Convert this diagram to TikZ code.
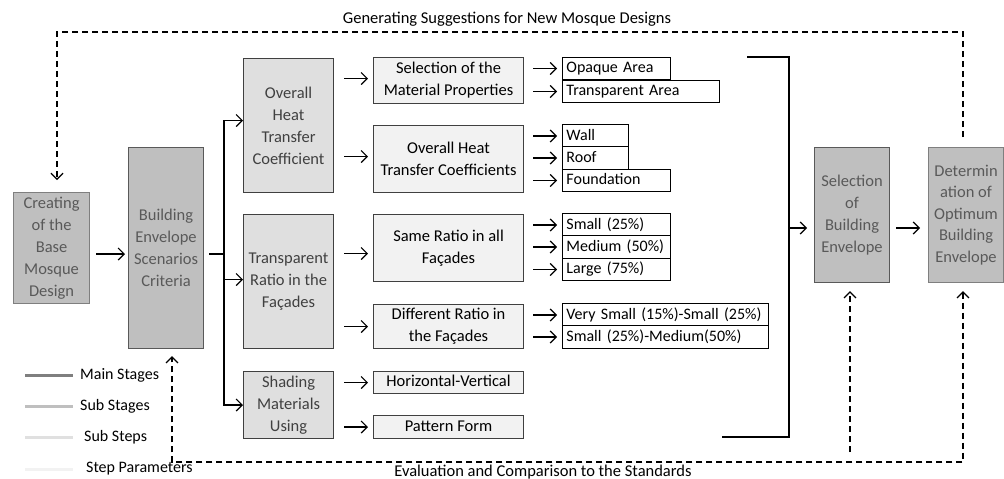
\documentclass[tikz,border=0pt]{standalone}
\usepackage{fontspec}
\setmainfont{Carlito}
\usetikzlibrary{arrows.meta}
\definecolor{mainfill}{HTML}{BFBFBF}
\definecolor{mainedge}{HTML}{595959}
\definecolor{maintext}{HTML}{595959}
\definecolor{subfill}{HTML}{DFDFDF}
\definecolor{subtext}{HTML}{404040}
\definecolor{stepfill}{HTML}{F2F2F2}
\definecolor{lgmain}{HTML}{7F7F7F}
\definecolor{lgsub}{HTML}{BFBFBF}
\definecolor{lgstep}{HTML}{E0E0E0}
\definecolor{lgpar}{HTML}{F2F2F2}
\begin{document}
\begin{tikzpicture}[x=1pt,y=-1pt,
  font=\fontsize{16.5}{22}\selectfont,
  box/.style={rectangle, anchor=north west, align=center, inner sep=0pt, line width=1.1pt},
  mainbox/.style={box, draw=mainedge, fill=mainfill, text=maintext},
  mainboxl/.style={box, draw=lgmain, fill=mainfill, text=maintext},
  subbox/.style={box, draw=subtext, fill=subfill, text=subtext},
  stepbox/.style={box, draw=subtext, fill=stepfill, text=black},
  param/.style={rectangle, anchor=west, draw=black, fill=white, line width=0.9pt, text width=#1, align=left, inner xsep=4pt, inner ysep=0pt, minimum height=22.5pt, text height=11.5pt, text depth=3.5pt, font=\fontsize{16}{20}\selectfont},
  arr/.style={line width=1.2pt, -{Straight Barb[length=6pt,width=12pt]}},
  dsh/.style={line width=1.2pt, dash pattern=on 6pt off 4pt},
  lg/.style={line width=3pt},
  lgtext/.style={anchor=west, inner sep=0pt, font=\fontsize{16}{20}\selectfont}
]
\useasboundingbox (0,0) rectangle (1004,479);

% main stages
\node[mainboxl, minimum width=76pt, minimum height=111pt] (create) at (13,192) {Creating\\of the\\Base\\Mosque\\Design};
\node[mainbox, minimum width=75pt, minimum height=201pt] (build) at (128,147) {Building\\Envelope\\Scenarios\\Criteria};
\node[mainbox, minimum width=75pt, minimum height=135pt] (selB) at (814,147) {Selection\\of\\Building\\Envelope};
\node[mainboxl, minimum width=75pt, minimum height=135pt, font=\fontsize{16.5}{21.5}\selectfont] (det) at (928,147) {Determin\\ation of\\Optimum\\Building\\Envelope};

% sub stages
\node[subbox, minimum width=90pt, minimum height=134pt] (ohtc) at (243,58) {Overall\\Heat\\Transfer\\Coefficient};
\node[subbox, minimum width=90pt, minimum height=134pt] (trans) at (243,214) {Transparent\\Ratio in the\\Façades};
\node[subbox, minimum width=90pt, minimum height=67pt] (shad) at (243,371) {Shading\\Materials\\Using};

% sub steps
\node[stepbox, minimum width=150pt, minimum height=46pt] (selmat) at (373,57) {Selection of the\\Material Properties};
\node[stepbox, minimum width=150pt, minimum height=67pt] (ohtcs) at (373,125) {Overall Heat\\Transfer Coefficients};
\node[stepbox, minimum width=150pt, minimum height=67pt] (same) at (373,214) {Same Ratio in all\\Façades};
\node[stepbox, minimum width=150pt, minimum height=44pt] (diff) at (373,304) {Different Ratio in\\the Façades};
\node[stepbox, minimum width=150pt, minimum height=22pt, text height=11.5pt, text depth=3.5pt] (hv) at (373,371) {Horizontal-Vertical};
\node[stepbox, minimum width=150pt, minimum height=23pt, text height=11.5pt, text depth=3.5pt] (pat) at (373,415) {Pattern Form};

% step parameters
\node[param=100pt] (opq) at (562,68.5) {Opaque Area};
\node[param=149pt] (tra) at (562,91.5) {Transparent Area};
\node[param=58pt] (wall) at (562,136) {Wall};
\node[param=58pt] (roof) at (562,158) {Roof};
\node[param=100pt] (found) at (562,180.5) {Foundation};
\node[param=100pt] (small) at (562,225) {Small (25\%)};
\node[param=100pt] (med) at (562,247) {Medium (50\%)};
\node[param=100pt] (large) at (562,269.5) {Large (75\%)};
\node[param=198pt] (vs) at (562,315) {Very Small (15\%)-Small (25\%)};
\node[param=198pt] (sm) at (562,337) {Small (25\%)-Medium(50\%)};

% labels
\node (gen) at (507,19) {Generating Suggestions for New Mosque Designs};
\node (eval) at (543,472) {Evaluation and Comparison to the Standards};

% create -> build
\coordinate (br) at (224,254);
\draw[arr] ([xshift=6pt]create.east |- br) -- ([xshift=-3pt]build.west |- br);
% branch
\draw[line width=1.2pt] ([xshift=5pt]build.east |- br) -- (br);
\draw[arr] (br) |- ([yshift=5pt]ohtc.west);
\draw[arr] (br) |- ([yshift=2pt]trans.west);
\draw[arr] (br) |- (shad.west);

% sub stage -> sub steps
\draw[arr] ([xshift=10pt]ohtc.east |- selmat.west) ++(0,-2) -- ([xshift=-5pt,yshift=2pt]selmat.west);
\draw[arr] ([xshift=10pt]ohtc.east |- ohtcs.west) ++(0,-2.5) -- ([xshift=-5pt,yshift=2.5pt]ohtcs.west);
\draw[arr] ([xshift=10pt]trans.east |- same.west) ++(0,5.5) -- ([xshift=-5pt,yshift=-5.5pt]same.west);
\draw[arr] ([xshift=10pt]trans.east |- diff.west) -- ([xshift=-5pt]diff.west);
\draw[arr] ([xshift=10pt]shad.east |- hv.west) -- ([xshift=-5pt]hv.west);
\draw[arr] ([xshift=10pt]shad.east |- pat.west) -- ([xshift=-5pt]pat.west);

% sub steps -> parameters
\foreach \s/\p in {selmat/opq, selmat/tra, ohtcs/wall, ohtcs/roof, ohtcs/found, same/small, same/med, same/large, diff/vs, diff/sm}
  \draw[arr] ([xshift=9pt]\s.east |- \p.west) -- ([xshift=-5pt]\p.west);

% bracket
\coordinate (btl) at (747,57);
\coordinate (bt) at (789,57);
\coordinate (bb) at (789,437);
\coordinate (bbl) at (722,437);
\coordinate (ay) at (789,228);
\draw[line width=1.2pt] (btl) -- (bt) -- (bb) -- (bbl);
\draw[arr] (ay) -- ([xshift=-7pt]selB.west |- ay);
\draw[arr] ([xshift=6pt]selB.east |- ay) -- ([xshift=-8pt]det.west |- ay);

% feedback top
\coordinate (tr) at (963,32);
\coordinate (tl) at (57,32);
\draw[dsh, arr] ([yshift=10pt]det.north -| tr) -- (tr) -- (tl) -- ([yshift=12pt]create.north -| tl);

% feedback bottom
\coordinate (bl) at (172,462);
\coordinate (brr) at (963,462);
\coordinate (bm) at (850,452);
\draw[dsh, {Straight Barb[length=6pt,width=12pt]}-{Straight Barb[length=6pt,width=12pt]}] ([yshift=-8pt]det.south -| brr) -- (brr) -- (bl) -- ([yshift=-7pt]build.south -| bl);
\draw[dsh, arr] (bm) -- ([yshift=-8pt]selB.south -| bm);

% legend
\draw[lg, lgmain] (25,375) -- (73,375);
\draw[lg, lgsub] (25,406) -- (73,406);
\draw[lg, lgstep] (25,437) -- (73,437);
\draw[lg, lgpar] (25,469) -- (73,469);
\node[lgtext] (lm) at (80,375) {Main Stages};
\node[lgtext] (ls) at (80,406) {Sub Stages};
\node[lgtext] (lst) at (84,437) {Sub Steps};
\node[lgtext] (lp) at (86,469) {Step Parameters};
\end{tikzpicture}
\end{document}
